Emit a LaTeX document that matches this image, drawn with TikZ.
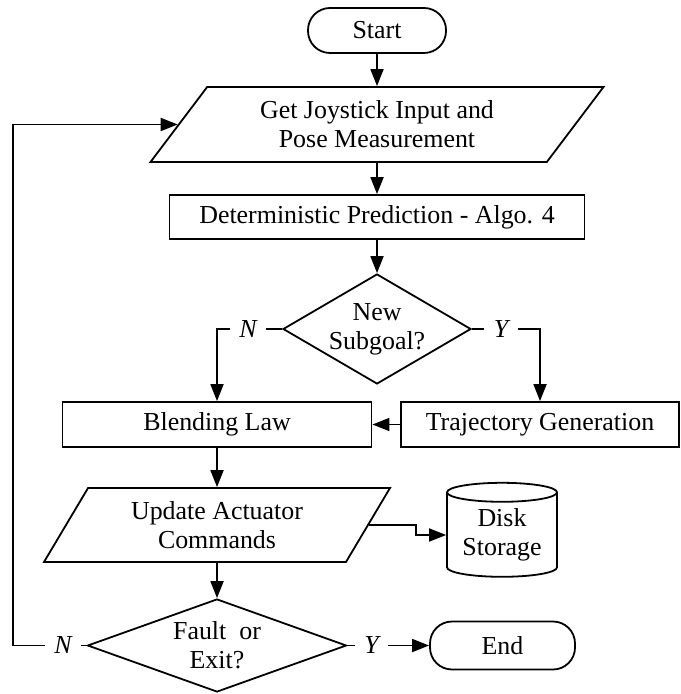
\documentclass[tikz,border=0pt]{standalone}
\usepackage{fontspec}
\setmainfont{Liberation Serif}
\usetikzlibrary{shapes.geometric,arrows.meta}
\begin{document}
\begin{tikzpicture}[x=0.5pt,y=-0.5pt,
  every node/.style={font=\fontsize{12.95}{14.5}\selectfont, align=center, inner sep=0pt},
  box/.style={draw, line width=0.9pt, rectangle},
  term/.style={draw, line width=0.9pt, rectangle, rounded corners=11pt},
  io/.style={draw, line width=0.9pt, trapezium, trapezium stretches body},
  dec/.style={draw, line width=0.9pt, diamond},
  disk/.style={draw, line width=0.9pt, cylinder, shape border rotate=90},
  lbl/.style={font=\fontsize{12.95}{14.5}\selectfont\itshape, inner xsep=4.5pt, inner ysep=2pt},
  conn/.style={line width=0.9pt},
  arr/.style={conn, -{Triangle[length=8.5pt,width=6.5pt]}}
]
\useasboundingbox (0,0) rectangle (680,694);

\node[term, minimum width=69pt, minimum height=22.5pt] (start) at (377,30.5) {Start};
\node[io, minimum width=226.5pt, minimum height=37.5pt,
      trapezium left angle=39.8, trapezium right angle=140.2] (p1) at (377,124.5)
      {Get Joystick Input and\\Pose Measurement};
\node[box, minimum width=207.5pt, minimum height=22pt] (det) at (377,217)
      {Deterministic Prediction - Algo. 4};
\node[dec, minimum width=94pt, minimum height=55pt, aspect=1.71] (d1) at (377,329) {New\\Subgoal?};
\node[box, minimum width=154.5pt, minimum height=22.5pt] (blend) at (217,424.5) {Blending Law};
\node[box, minimum width=139pt, minimum height=22.5pt] (traj) at (540,424.5) {Trajectory Generation};
\node[io, minimum width=173pt, minimum height=37pt,
      trapezium left angle=47, trapezium right angle=133] (p2) at (217,525)
      {Update Actuator\\Commands};
\node[disk, minimum width=55pt, minimum height=47pt, aspect=0.24] (dsk) at (502,535) {Disk\\Storage};
\node[dec, minimum width=129.5pt, minimum height=46.5pt, aspect=2.78] (d2) at (217,645.5) {Fault\ \ or\\Exit?};
\node[term, minimum width=72.5pt, minimum height=24pt] (stop) at (502.5,645.5) {End};

\node[lbl] (n1) at (248,329) {N};
\node[lbl] (y1) at (501,329) {Y};
\node[lbl] (n2) at (63,645.5) {N};
\node[lbl] (y2) at (371.5,645.5) {Y};
\coordinate (loop) at (12.7,645.5);

\draw[arr] (start) -- (p1);
\draw[arr] (p1) -- (det);
\draw[arr] (det) -- (d1);
\draw[conn] (d1.west) -- (n1);
\draw[arr] (n1.west) -| (blend.north);
\draw[conn] (d1.east) -- (y1);
\draw[arr] (y1.east) -| (traj.north);
\draw[arr] (traj) -- (blend);
\draw[arr] (blend) -- (p2);
\draw[arr] (p2.east) -- ++(47,0) |- (dsk.west);
\draw[arr] (p2) -- (d2);
\draw[conn] (d2.west) -- (n2);
\draw[arr] (n2.west) -- (loop) |- (p1.west);
\draw[conn] (d2.east) -- (y2);
\draw[arr] (y2) -- (stop);
\end{tikzpicture}
\end{document}
